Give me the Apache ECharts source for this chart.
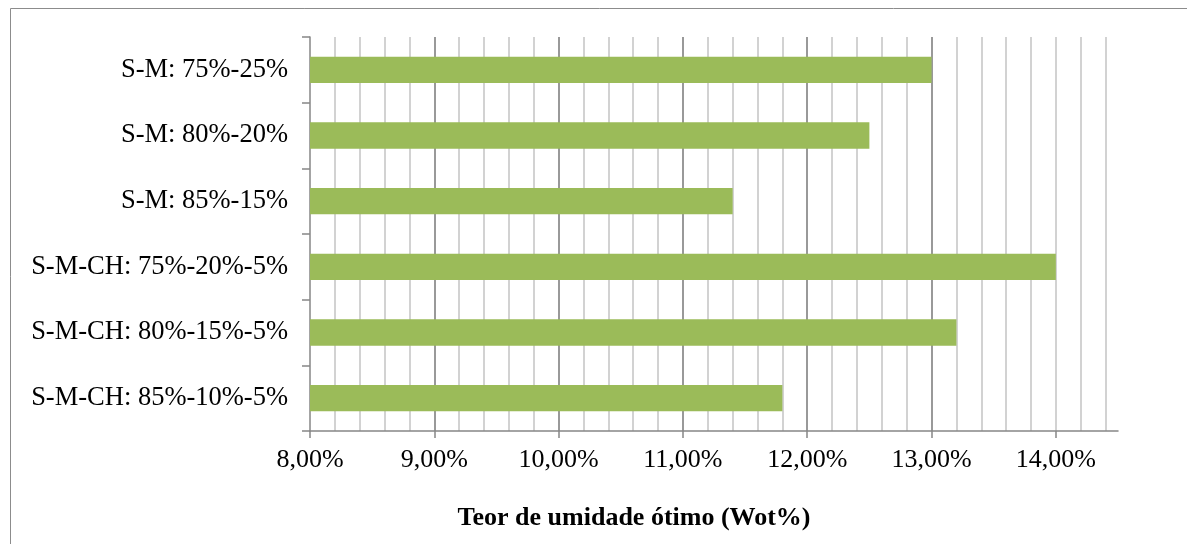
<!DOCTYPE html>
<html>
<head>
<meta charset="utf-8">
<script src="https://cdn.jsdelivr.net/npm/echarts@6/dist/echarts.min.js"></script>
<style>
html,body{margin:0;padding:0;background:#fff;}
#c{width:1187px;height:544px;}
</style>
</head>
<body>
<div id="c"></div>
<script>
const categories = ["S-M: 75%-25%", "S-M: 80%-20%", "S-M: 85%-15%", "S-M-CH: 75%-20%-5%", "S-M-CH: 80%-15%-5%", "S-M-CH: 85%-10%-5%"];
const values = [13.0, 12.5, 11.4, 14.0, 13.2, 11.8];
const majorTicks = [8, 9, 10, 11, 12, 13, 14];
const axisTitle = "Teor de umidade ótimo (Wot%)";

const font = "'Liberation Serif', 'Times New Roman', serif";
const chart = echarts.init(document.getElementById('c'), null, {renderer: 'canvas'});
chart.setOption({
  animation: false,
  backgroundColor: '#ffffff',
  grid: {left: 310, right: 69, top: 37, bottom: 113, containLabel: false},
  graphic: [
    {type: 'rect', shape: {x: 10.5, y: 8.5, width: 1300, height: 700}, style: {fill: null, stroke: '#8c8c8c', lineWidth: 1}, z: -10, silent: true},
    {type: 'text', x: 634, y: 518, style: {text: axisTitle, font: "bold 26px " + font, fill: '#000', align: 'center', verticalAlign: 'middle'}}
  ],
  xAxis: [
    {
      type: 'value', min: 8, max: 14.5, interval: 0.2, position: 'bottom', z: 0,
      axisLine: {show: false}, axisTick: {show: false}, axisLabel: {show: false},
      splitLine: {show: true, showMinLine: false, showMaxLine: false, lineStyle: {color: '#c3c3c3', width: 1.5}}
    },
    {
      type: 'value', min: 8, max: 14.5, interval: 1, position: 'bottom', z: 1,
      axisLine: {show: true, lineStyle: {color: '#868686', width: 1.5}},
      axisTick: {show: true, length: 7, customValues: majorTicks, lineStyle: {color: '#868686', width: 1.5}},
      axisLabel: {show: true, customValues: majorTicks, margin: 16, color: '#000', fontFamily: font, fontSize: 26,
        formatter: v => v.toFixed(2).replace('.', ',') + '%'},
      splitLine: {show: true, showMinLine: false, showMaxLine: false, lineStyle: {color: '#868686', width: 1.5}}
    }
  ],
  yAxis: {
    type: 'category', data: categories, inverse: true, boundaryGap: true,
    axisLine: {show: true, lineStyle: {color: '#868686', width: 1.5}},
    axisTick: {show: true, length: 8, lineStyle: {color: '#868686', width: 1.5}},
    axisLabel: {margin: 22, color: '#000', fontFamily: font, fontSize: 26.5},
    splitLine: {show: false}
  },
  series: [{
    type: 'bar', xAxisIndex: 1, data: values, barWidth: '40%',
    itemStyle: {color: '#9bbb59'}, z: 5
  }]
});
</script>
</body>
</html>
